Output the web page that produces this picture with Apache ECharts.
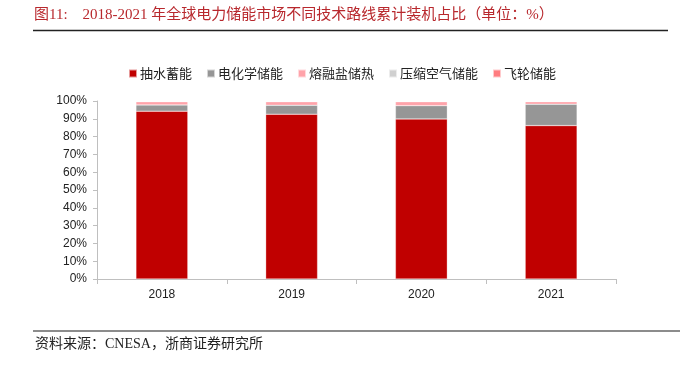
<!DOCTYPE html>
<html>
<head>
<meta charset="utf-8">
<script src="https://cdn.jsdelivr.net/npm/echarts@6/dist/echarts.min.js"></script>
<style>
  html, body { margin: 0; padding: 0; background: #fff; }
  #chart { width: 680px; height: 367px; }
</style>
</head>
<body>
<div id="chart"></div>
<script>
// 数据（单位：%）
const years = ['2018', '2019', '2020', '2021']
const seriesNames = ['抽水蓄能', '电化学储能', '熔融盐储热', '压缩空气储能', '飞轮储能']
const pumpedHydro = [94.3, 92.6, 89.9, 86.2]
const electrochem = [3.5, 5.0, 7.5, 12.0]
const moltenSalt = [1.8, 2.0, 2.2, 1.4]
const compressedAir = [0.2, 0.2, 0.2, 0.2]
const flywheel = [0.2, 0.2, 0.2, 0.2]
const yTicks = [0, 10, 20, 30, 40, 50, 60, 70, 80, 90, 100]

const colors = ['#C00000', '#969696', '#FFA3AA', '#D0D0D0', '#FF7C80']
const allData = [pumpedHydro, electrochem, moltenSalt, compressedAir, flywheel]

let myChart = echarts.init(document.getElementById('chart'))
const cjk = '"Noto Sans CJK SC", "Liberation Sans", sans-serif'
const serif = '"Liberation Serif", "DejaVu Serif", "Noto Sans CJK SC", serif'

let option = {
  animation: false,
  color: colors,
  legend: {
    data: seriesNames,
    top: 62,
    left: 123,
    itemWidth: 8,
    itemHeight: 8,
    itemGap: 14,
    icon: 'rect',
    textStyle: { fontFamily: cjk, fontSize: 13, color: '#222', padding: [0, 0, 0, -2] }
  },
  grid: { left: 97, right: 64, top: 101, bottom: 88 },
  xAxis: {
    type: 'category',
    data: years,
    axisLine: { lineStyle: { color: '#BFBFBF', width: 1 } },
    axisTick: { show: true, length: 5, lineStyle: { color: '#BFBFBF' } },
    axisLabel: { color: '#222', fontSize: 12, fontFamily: '"Liberation Sans", Arial, sans-serif', margin: 10 }
  },
  yAxis: {
    type: 'value',
    min: 0,
    max: 100,
    interval: 10,
    splitLine: { show: false },
    axisLine: { show: true, lineStyle: { color: '#BFBFBF', width: 1 } },
    axisTick: { show: true, length: 4, lineStyle: { color: '#BFBFBF' } },
    axisLabel: {
      color: '#222',
      fontSize: 12,
      margin: 10,
      fontFamily: '"Liberation Sans", Arial, sans-serif',
      formatter: function (v) {
        return yTicks.indexOf(v) >= 0 ? v + '%' : ''
      }
    }
  },
  series: seriesNames.map(function (name, i) {
    return {
      name: name,
      type: 'bar',
      stack: 'total',
      barWidth: '40%',
      data: allData[i],
      itemStyle: { borderColor: 'rgba(255,255,255,0.6)', borderWidth: 0.5 }
    }
  }),
  graphic: [
    {
      type: 'text',
      left: 34,
      top: 8,
      style: {
        text: '图11:    2018-2021 年全球电力储能市场不同技术路线累计装机占比（单位：%）',
        fill: '#B8282D',
        font: '15px ' + serif
      }
    },
    {
      type: 'line',
      shape: { x1: 33, y1: 30.5, x2: 668, y2: 30.5 },
      style: { stroke: '#222', lineWidth: 1.5 }
    },
    {
      type: 'line',
      shape: { x1: 33, y1: 331, x2: 680, y2: 331 },
      style: { stroke: '#8C8C8C', lineWidth: 2 }
    },
    {
      type: 'text',
      left: 35,
      top: 337,
      style: {
        text: '资料来源：CNESA，浙商证券研究所',
        fill: '#222',
        font: '14px ' + serif
      }
    }
  ]
}
myChart.setOption(option)
</script>
</body>
</html>
